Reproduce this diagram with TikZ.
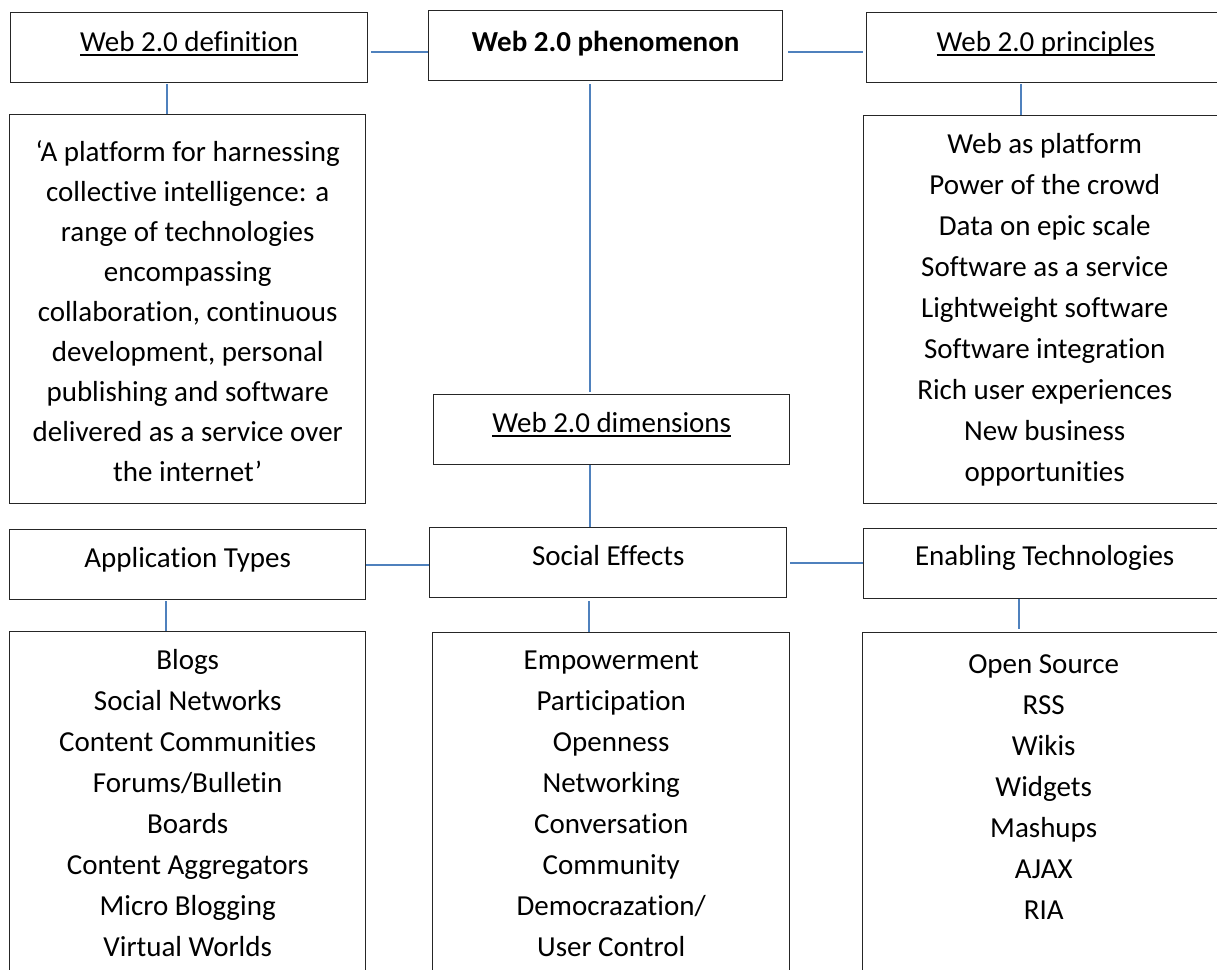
\documentclass[tikz,border=0pt]{standalone}
\usepackage{fontspec}
\setmainfont{Carlito}[RawFeature={-liga;-clig;-calt;-dlig}]
\definecolor{linkblue}{HTML}{4F81BD}
\newcommand\stacktext[2]{\parbox[t]{#1}{\centering #2}}
\newcommand\headline[1]{\setbox0\hbox{#1}\rlap{\rule[-4pt]{\wd0}{1.6pt}}\box0}

\begin{document}
\begin{tikzpicture}[x=1pt,y=-1pt,
  box/.style={draw=black!85,line width=1.4pt,anchor=north west,inner sep=0pt,
    font=\fontsize{29pt}{40pt}\selectfont},
  link/.style={draw=linkblue,line width=2pt}]

\clip (0,0) rectangle (1217,969);

% top row
\node[box,minimum width=357pt,text height=39pt,text depth=31pt] (defhead) at (10,12) {\headline{Web 2.0 definition}};
\node[box,minimum width=354pt,text height=41pt,text depth=29pt] (phen) at (428,10) {\textbf{Web 2.0 phenomenon}};
\node[box,minimum width=358pt,text height=39pt,text depth=31pt] (prinhead) at (866,12) {\headline{Web 2.0 principles}};

\node[box,text height=47pt,text depth=342pt] (deftext) at (9,114) {\stacktext{356pt}{‘A platform for harnessing\\
collective intelligence: a\\ range of technologies\\ encompassing\\ collaboration, continuous\\
development, personal\\ publishing and software\\ delivered as a service over\\ the internet’}};
\node[box,text height=38pt,text depth=350pt,font=\fontsize{29pt}{41pt}\selectfont] (printext) at (863,115) {\stacktext{362pt}{Web as platform\\
Power of the crowd\\ Data on epic scale\\ Software as a service\\ Lightweight software\\
Software integration\\ Rich user experiences\\ New business\\ opportunities}};

% middle
\node[box,minimum width=356pt,text height=38pt,text depth=32pt] (dims) at (433,394) {\headline{Web 2.0 dimensions}};

\node[box,minimum width=356pt,text height=38pt,text depth=32pt] (app) at (9,529) {Application Types};
\node[box,minimum width=357pt,text height=38pt,text depth=32pt] (social) at (429,527) {Social Effects};
\node[box,minimum width=362pt,text height=37pt,text depth=33pt] (enabling) at (863,528) {Enabling Technologies};

% bottom row
\node[box,text height=38pt,text depth=322pt,font=\fontsize{29pt}{41pt}\selectfont] (applist) at (9,631) {\stacktext{356pt}{Blogs\\
Social Networks\\ Content Communities\\ Forums/Bulletin\\ Boards\\ Content Aggregators\\ Micro Blogging\\ Virtual Worlds}};
\node[box,text height=37pt,text depth=323pt,font=\fontsize{29pt}{41pt}\selectfont] (effectlist) at (432,632) {\stacktext{357pt}{Empowerment\\
Participation\\ Openness\\ Networking\\ Conversation\\ Community\\ Democrazation/\\ User Control}};
\node[box,text height=41pt,text depth=319pt,font=\fontsize{29pt}{41pt}\selectfont] (techlist) at (862,632) {\stacktext{362pt}{Open Source\\
RSS\\ Wikis\\ Widgets\\ Mashups\\ AJAX\\ RIA}};

% connectors
\draw[link,shorten <=3pt] (defhead.east |- phen.base west) -- (phen.base west);
\draw[link,shorten <=5pt,shorten >=3pt] (phen.base east) -- (prinhead.west |- phen.base east);
\draw[link,shorten <=1pt] ([xshift=-22pt]defhead.south) -- ([xshift=-22pt]defhead.south |- deftext.north);
\draw[link,shorten <=1pt] ([xshift=-25pt]prinhead.south) -- ([xshift=-25pt]prinhead.south |- printext.north);
\draw[link,shorten <=3pt,shorten >=2pt] ([xshift=-16pt]phen.south) -- ([xshift=-16pt]phen.south |- dims.north);
\draw[link] ([xshift=-22pt]dims.south) -- ([xshift=-22pt]dims.south |- social.north);
\draw[link] (app.east) -- (social.west |- app.east);
\draw[link,shorten <=3pt] (social.east) -- (enabling.west |- social.east);
\draw[link,shorten <=1pt] ([xshift=-22pt]app.south) -- ([xshift=-22pt]app.south |- applist.north);
\draw[link,shorten <=3pt] ([xshift=-19pt]social.south) -- ([xshift=-19pt]social.south |- effectlist.north);
\draw[link,shorten >=3pt] ([xshift=-26pt]enabling.south) -- ([xshift=-26pt]enabling.south |- techlist.north);
\end{tikzpicture}
\end{document}
